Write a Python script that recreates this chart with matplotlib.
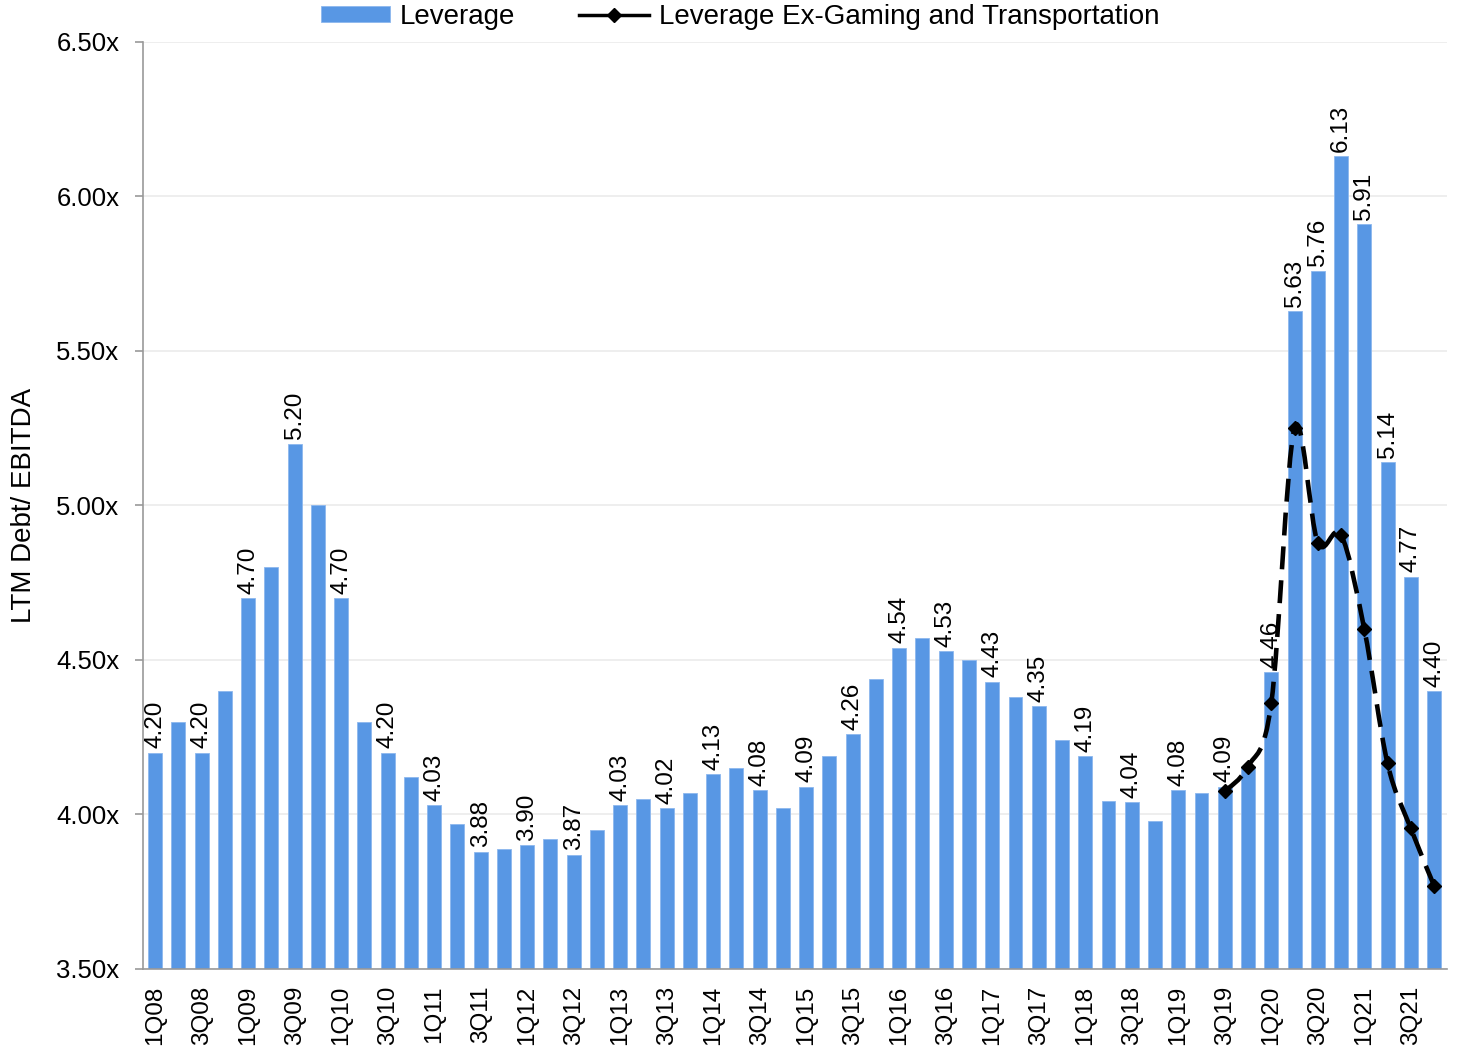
import matplotlib
matplotlib.use("Agg")
import matplotlib.pyplot as plt
from matplotlib.path import Path
from matplotlib.patches import PathPatch
from matplotlib.lines import Line2D
from matplotlib.patches import Patch
import numpy as np

plt.rcParams['font.family'] = ['Liberation Sans', 'DejaVu Sans']

quarters = [f"{q}Q{y:02d}" for y in range(8, 22) for q in range(1, 5)]

leverage = [4.20, 4.30, 4.20, 4.40, 4.70, 4.80, 5.20, 5.00,
            4.70, 4.30, 4.20, 4.12, 4.03, 3.97, 3.88, 3.887,
            3.90, 3.92, 3.87, 3.95, 4.03, 4.05, 4.02, 4.07,
            4.13, 4.15, 4.08, 4.02, 4.09, 4.19, 4.26, 4.44,
            4.54, 4.57, 4.53, 4.50, 4.43, 4.38, 4.35, 4.24,
            4.19, 4.045, 4.04, 3.98, 4.08, 4.07, 4.09, 4.15,
            4.46, 5.63, 5.76, 6.13, 5.91, 5.14, 4.77, 4.40]

ex_quarters = ["3Q19", "4Q19", "1Q20", "2Q20", "3Q20", "4Q20", "1Q21", "2Q21", "3Q21", "4Q21"]
ex_gaming = [4.075, 4.155, 4.36, 5.25, 4.88, 4.905, 4.60, 4.165, 3.955, 3.77]

labeled_quarters = [q for i, q in enumerate(quarters) if i % 2 == 0 or i >= 48]
tick_labels = [q for q in quarters if q[0] in "13"]

yticks = [3.5, 4.0, 4.5, 5.0, 5.5, 6.0, 6.5]

BAR = '#5897E4'

fig = plt.figure(figsize=(14.58, 10.48), dpi=100)
ax = fig.add_axes([0.0981, 0.0754, 0.8944, 0.8846])

x = np.arange(len(quarters))
ax.bar(x, leverage, width=0.6, color=BAR, edgecolor='#8DB8EE', linewidth=0.6, zorder=2)

# value labels
for i, q in enumerate(quarters):
    if q in labeled_quarters:
        ax.annotate(f"{leverage[i]:.2f}", (x[i], leverage[i]), xytext=(0, 3),
                    textcoords='offset points', rotation=90, ha='center', va='bottom',
                    fontsize=17.5, color='black', zorder=4)

# smoothed dashed line (Catmull-Rom style bezier through data points)
ex_x = np.array([quarters.index(q) for q in ex_quarters], dtype=float)
ex_y = np.array(ex_gaming)
pts = np.column_stack([ex_x, ex_y])
verts = [tuple(pts[0])]
codes = [Path.MOVETO]
n = len(pts)
for i in range(n - 1):
    p0 = pts[i - 1] if i > 0 else pts[i]
    p1 = pts[i]
    p2 = pts[i + 1]
    p3 = pts[i + 2] if i + 2 < n else pts[i + 1]
    c1 = p1 + (p2 - p0) / 6.0
    c2 = p2 - (p3 - p1) / 6.0
    verts += [tuple(c1), tuple(c2), tuple(p2)]
    codes += [Path.CURVE4, Path.CURVE4, Path.CURVE4]
path = Path(verts, codes)
patch = PathPatch(path, facecolor='none', edgecolor='black', linewidth=3.3,
                  linestyle=(0, (5, 2.4)), zorder=5, capstyle='butt')
ax.add_patch(patch)
ax.plot(ex_x, ex_y, linestyle='none', marker='D', markersize=7.5, color='black', zorder=6)

ax.set_ylim(3.5, 6.5)
ax.set_xlim(-0.52, len(quarters) - 1 + 0.56)
ax.set_yticks(yticks)
ax.set_yticklabels([f"{v:.2f}x" for v in yticks], fontsize=18.5)
ax.set_xticks([quarters.index(q) for q in tick_labels])
ax.set_xticklabels(tick_labels, rotation=90, fontsize=17.5)
ax.tick_params(axis='x', length=0, pad=12)
ax.tick_params(axis='y', length=6, color='#999999', width=1.2, pad=11, direction='out')
ax.yaxis.grid(True, color='#EBEBEB', linewidth=1.2, zorder=0)
ax.set_axisbelow(True)
for s in ['top', 'right']:
    ax.spines[s].set_visible(False)
ax.spines['left'].set_color('#999999')
ax.spines['bottom'].set_color('#999999')
ax.spines['left'].set_linewidth(1.2)
ax.spines['bottom'].set_linewidth(1.2)
ax.set_ylabel("LTM Debt/ EBITDA", fontsize=20, labelpad=14)

handles = [Patch(facecolor=BAR, edgecolor='#8DB8EE', linewidth=0.6),
           Line2D([0], [0], color='black', linewidth=2.5, marker='D', markersize=7)]
fig.legend(handles, ["Leverage", "Leverage Ex-Gaming and Transportation"],
           loc='upper center', bbox_to_anchor=(0.5075, 1.02), ncol=2, frameon=False,
           fontsize=20, handlelength=2.5, handleheight=0.5, columnspacing=2.3,
           handletextpad=0.36)

fig.savefig("out.png", dpi=100)
